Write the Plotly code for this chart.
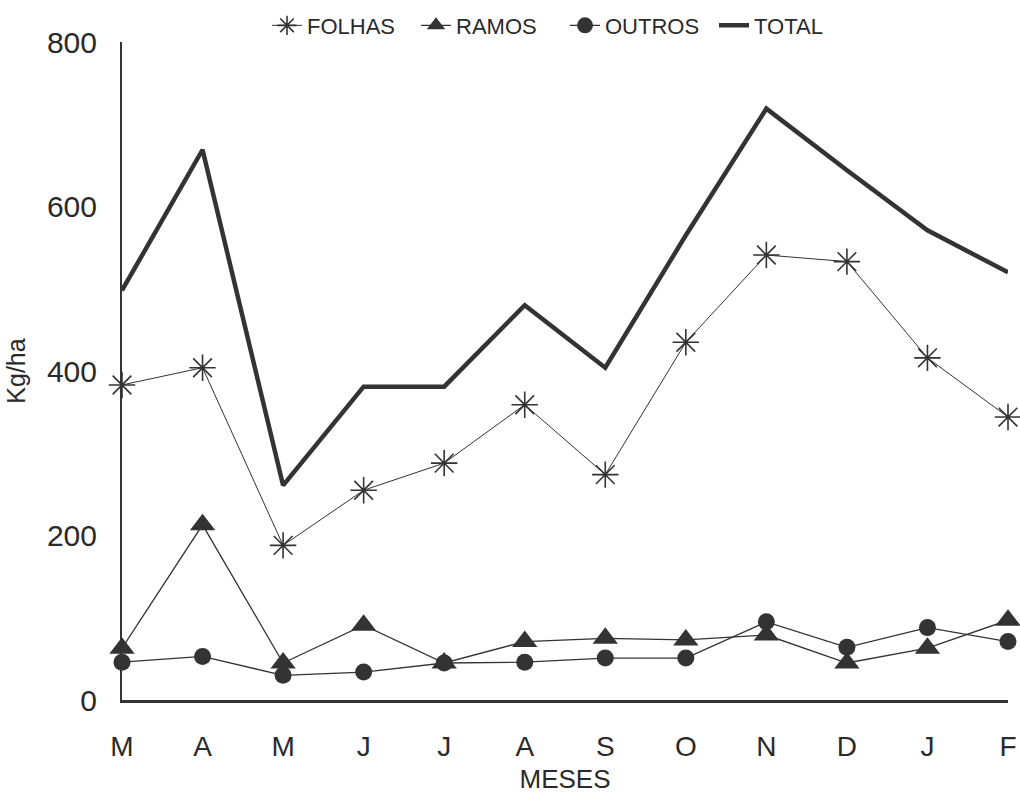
import plotly.graph_objects as go

meses = ["M", "A", "M", "J", "J", "A", "S", "O", "N", "D", "J", "F"]
folhas = [383, 404, 188, 255, 288, 359, 274, 435, 541, 533, 416, 344]
ramos = [63, 213, 45, 91, 45, 71, 75, 73, 79, 45, 63, 97]
outros = [46, 53, 30, 34, 45, 46, 51, 51, 95, 64, 88, 71]
total = [498, 669, 261, 381, 381, 480, 404, 565, 719, 644, 571, 520]
y_ticks = [0, 200, 400, 600, 800]

x = list(range(len(meses)))
ink = "#333333"

fig = go.Figure()
fig.add_trace(go.Scatter(
    x=x, y=folhas, name="FOLHAS", mode="lines+markers",
    line=dict(color=ink, width=1),
    marker=dict(symbol="asterisk-open", size=22, line=dict(color=ink, width=1.6)),
    cliponaxis=False))
fig.add_trace(go.Scatter(
    x=x, y=ramos, name="RAMOS", mode="lines+markers",
    line=dict(color=ink, width=1.3),
    marker=dict(symbol="triangle-up", size=22, color=ink),
    cliponaxis=False))
fig.add_trace(go.Scatter(
    x=x, y=outros, name="OUTROS", mode="lines+markers",
    line=dict(color=ink, width=1.3),
    marker=dict(symbol="circle", size=17, color=ink),
    cliponaxis=False))
fig.add_trace(go.Scatter(
    x=x, y=total, name="TOTAL", mode="lines",
    line=dict(color=ink, width=4.5),
    cliponaxis=False))

fig.update_layout(
    width=1020, height=794,
    margin=dict(l=122, r=12, t=42, b=94, autoexpand=False),
    paper_bgcolor="white", plot_bgcolor="white",
    font=dict(family="Liberation Sans, Arial, sans-serif", color="#2a2a2a"),
    showlegend=True,
    legend=dict(orientation="h", x=0.5, xanchor="center", y=1.025, yanchor="middle",
                font=dict(size=22), itemwidth=30, tracegroupgap=0,
                entrywidth=104, entrywidthmode="pixels",
                bgcolor="rgba(0,0,0,0)"),
)
fig.update_xaxes(
    range=[0, 11], tickmode="array", tickvals=x, ticktext=meses,
    showgrid=False, zeroline=False, showline=True, linecolor=ink, linewidth=2.5,
    ticks="", ticklabelstandoff=20, tickfont=dict(size=28),
    title=dict(text="MESES", font=dict(size=26), standoff=25),
)
fig.update_yaxes(
    range=[0, 800], tickmode="array", tickvals=y_ticks,
    showgrid=False, zeroline=False, showline=True, linecolor=ink, linewidth=2,
    ticks="", ticklabelstandoff=17, tickfont=dict(size=30),
    title=dict(text="Kg/ha", font=dict(size=25), standoff=14),
)

fig.write_html(
    "out.html",
    config={"displayModeBar": False},
    post_script="document.body.style.margin='0';document.body.style.overflow='hidden';",
)
